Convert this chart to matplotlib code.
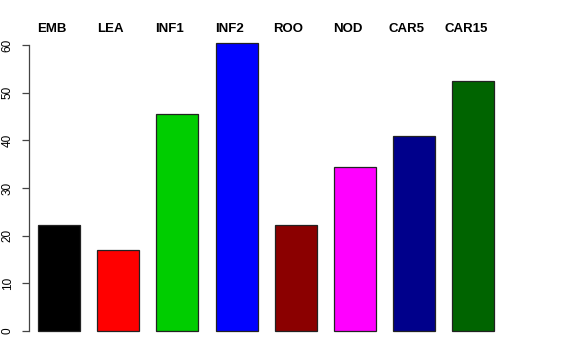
import matplotlib
matplotlib.use("Agg")
import matplotlib.pyplot as plt
import matplotlib.transforms as mtransforms
import numpy as np

# tissue groups and their values
groups = ["EMB", "LEA", "INF1", "INF2", "ROO", "NOD", "CAR5", "CAR15"]
values = [22.2, 17.0, 45.5, 60.5, 22.2, 34.4, 40.9, 52.4]
bar_colors = ["#000000", "#FF0000", "#00CD00", "#0000FF",
              "#8B0000", "#FF00FF", "#00008B", "#006400"]
yticks = [0, 10, 20, 30, 40, 50, 60]

plt.rcParams['font.family'] = ['Liberation Sans', 'DejaVu Sans']

W, H = 576, 360
fig = plt.figure(figsize=(W / 100, H / 100), dpi=100)
# axes box in pixels: left 29, right 560, top 30, bottom 345
ax = fig.add_axes([29 / W, (H - 345) / H, (560 - 29) / W, (345 - 30) / H])

pos = np.arange(len(groups))
ax.bar(pos, values, width=0.71, color=bar_colors, edgecolor="#222222", linewidth=0.9)

ax.set_xlim(-0.507, 8.463)
ax.set_ylim(-2.937, 63.15)

for s in ["top", "right", "bottom"]:
    ax.spines[s].set_visible(False)
ax.spines["left"].set_bounds(0, 60)
ax.spines["left"].set_color("#444444")
ax.spines["left"].set_linewidth(0.9)

ax.set_xticks([])
ax.set_yticks(yticks)
ax.set_yticklabels([str(t) for t in yticks], rotation=90, va="center", fontsize=8.5)
ax.tick_params(axis="y", length=5, width=0.9, color="#444444", pad=6)

# group names along the top, a bit left of the bar centres
trans = mtransforms.blended_transform_factory(ax.transData, ax.transAxes)
shift = mtransforms.ScaledTranslation(-7.5 / 100, 1.0 / 100, fig.dpi_scale_trans)
for p, name in zip(pos, groups):
    ax.text(p, 1.0, name, transform=trans + shift, ha="center", va="center",
            fontsize=9.5, fontweight="bold")

fig.savefig("out.png", dpi=100)
